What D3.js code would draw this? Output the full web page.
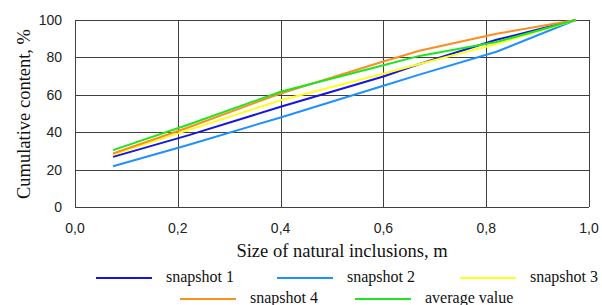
<!DOCTYPE html>
<meta charset="utf-8">
<style>
	body { margin: 0; background: #fff; }
	.grid line { stroke: #404040; stroke-width: 1; }
	.tick-label { font-family: "Liberation Sans", Arial, sans-serif; font-size: 14px; fill: #222; }
	.axis-title { font-family: "Liberation Serif", "Times New Roman", serif; font-size: 18.5px; fill: #111; }
	.legend-label { font-family: "Liberation Serif", "Times New Roman", serif; font-size: 16px; fill: #111; }
	.series { fill: none; stroke-width: 2; stroke-linejoin: round; }
</style>
<div id="chart"></div>
<script src="https://cdn.jsdelivr.net/npm/d3@7"></script>
<script>
	// Data
	const sizes = [0.074, 0.22, 0.4, 0.6, 0.67, 0.82, 0.974];
	const snapshot1 = [26.8, 38.3, 53.6, 69.8, 76.5, 89.4, 100];
	const snapshot2 = [21.8, 33.2, 47.9, 64.8, 70.8, 83.0, 100];
	const snapshot3 = [28.0, 41.1, 57.1, 71.3, 76.5, 87.2, 100];
	const snapshot4 = [28.6, 42.5, 60.7, 77.8, 83.6, 92.6, 100];
	const average   = [30.4, 44.0, 61.6, 75.8, 80.8, 88.2, 100];
	const seriesNames = ["snapshot 1", "snapshot 2", "snapshot 3", "snapshot 4", "average value"];
	const seriesColors = ["#1414e6", "#1e90ff", "#ffff1e", "#ff8c1e", "#1ee61e"];
	const xTicks = [0, 0.2, 0.4, 0.6, 0.8, 1.0];
	const yTicks = [0, 20, 40, 60, 80, 100];

	const allSeries = [snapshot1, snapshot2, snapshot3, snapshot4, average];

	const width = 602, height = 305;
	const margin = {top: 20, right: 13, bottom: 98, left: 75};
	const w = width - margin.left - margin.right,
		h = height - margin.top - margin.bottom;

	const x = d3.scaleLinear().domain([0, 1]).range([0, w]);
	const y = d3.scaleLinear().domain([0, 100]).range([h, 0]);

	const svg = d3.select("#chart").append("svg")
		.attr("width", width)
		.attr("height", height);

	const g = svg.append("g")
		.attr("transform", "translate(" + margin.left + "," + margin.top + ")");

	// grid + frame
	const grid = g.append("g").attr("class", "grid");
	grid.selectAll(".vx").data(xTicks).enter().append("line")
		.attr("x1", d => Math.round(x(d)) + 0.5).attr("x2", d => Math.round(x(d)) + 0.5)
		.attr("y1", 0).attr("y2", h);
	grid.selectAll(".hy").data(yTicks).enter().append("line")
		.attr("x1", 0).attr("x2", w)
		.attr("y1", d => Math.round(y(d)) + 0.5).attr("y2", d => Math.round(y(d)) + 0.5);

	// tick labels
	const fmt = d3.format(".1f");
	g.selectAll(".xl").data(xTicks).enter().append("text")
		.attr("class", "tick-label")
		.attr("x", d => x(d))
		.attr("y", h + 26)
		.attr("text-anchor", "middle")
		.text(d => fmt(d).replace(".", ","));
	g.selectAll(".yl").data(yTicks).enter().append("text")
		.attr("class", "tick-label")
		.attr("x", -13)
		.attr("y", d => y(d))
		.attr("dy", "0.35em")
		.attr("text-anchor", "end")
		.text(d => d);

	// axis titles
	svg.append("text")
		.attr("class", "axis-title")
		.attr("x", 342)
		.attr("y", 257)
		.attr("text-anchor", "middle")
		.text("Size of natural inclusions, m");
	svg.append("text")
		.attr("class", "axis-title")
		.attr("transform", "rotate(-90)")
		.attr("x", -114)
		.attr("y", 30)
		.attr("text-anchor", "middle")
		.text("Cumulative content, %");

	// lines
	const line = d3.line()
		.x((d, i) => x(sizes[i]))
		.y(d => y(d));
	// draw order: light blue, blue, yellow, orange, green
	[1, 0, 2, 3, 4].forEach(i => {
		g.append("path")
			.datum(allSeries[i])
			.attr("class", "series")
			.attr("stroke", seriesColors[i])
			.attr("d", line);
	});

	// legend
	const legendPos = [
		{x: 96, y: 278}, {x: 277, y: 278}, {x: 460, y: 278},
		{x: 180, y: 299}, {x: 355, y: 299}
	];
	const legend = svg.append("g");
	seriesNames.forEach((name, i) => {
		const p = legendPos[i];
		legend.append("line")
			.attr("x1", p.x).attr("x2", p.x + 56)
			.attr("y1", p.y).attr("y2", p.y)
			.attr("stroke", seriesColors[i])
			.attr("stroke-width", 2);
		legend.append("text")
			.attr("class", "legend-label")
			.attr("x", p.x + 70)
			.attr("y", p.y + 4)
			.text(name);
	});
</script>
